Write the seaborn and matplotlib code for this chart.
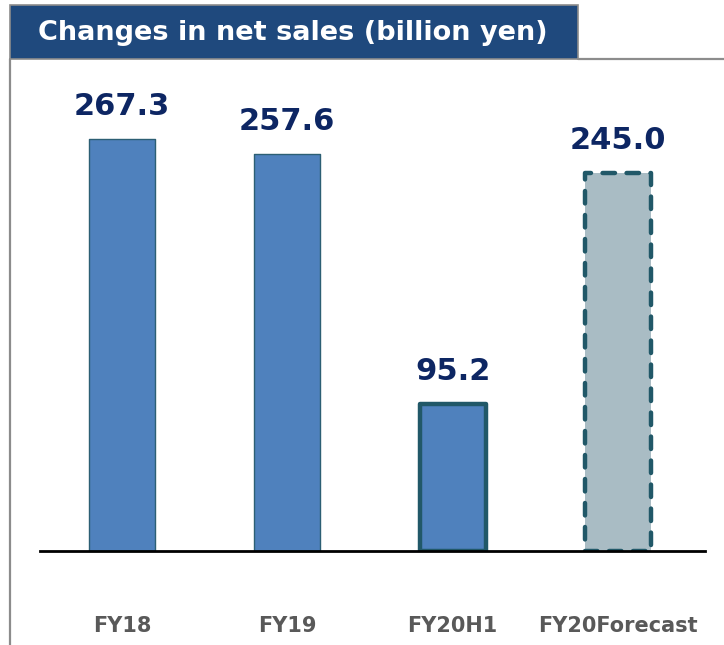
import matplotlib
matplotlib.use("Agg")
import matplotlib.pyplot as plt
import seaborn as sns
import pandas as pd
from matplotlib.patches import Rectangle
from matplotlib.lines import Line2D

categories = ["FY18", "FY19", "FY20H1", "FY20Forecast"]
net_sales = [267.3, 257.6, 95.2, 245.0]
value_labels = ["267.3", "257.6", "95.2", "245.0"]
title_text = "Changes in net sales (billion yen)"

sns.set_theme(style="white")
plt.rcParams['font.family'] = ['DejaVu Sans']

W, H = 724, 645
fig = plt.figure(figsize=(W / 100, H / 100), dpi=100)

def fx(px):
    return px / W

def fy(py):
    return 1 - py / H

ax = fig.add_axes([fx(40), fy(551), fx(705) - fx(40), fy(60) - fy(551)])

df = pd.DataFrame({"cat": categories, "val": net_sales})
sns.barplot(data=df, x="cat", y="val", ax=ax, width=0.4,
            color="#4F81BD", saturation=1)

fills = ["#4F81BD", "#4F81BD", "#4F81BD", "#A9BCC4"]
edges = ["#2C5F74", "#2C5F74", "#215868", "#215868"]
lws = [1.0, 1.0, 3.2, 3.2]
styles = ["solid", "solid", "solid", (0, (2.8, 2.6))]
for p, fc, ec, lw, ls in zip(ax.patches, fills, edges, lws, styles):
    p.set_facecolor(fc)
    p.set_edgecolor(ec)
    p.set_linewidth(lw)
    p.set_linestyle(ls)
    p.set_joinstyle("round")
    p.set_capstyle("round")

ax.set_xlim(-0.495, 3.525)
ax.set_ylim(0, 318.6)

for i, (v, lab) in enumerate(zip(net_sales, value_labels)):
    ax.annotate(lab, xy=(i, v), xytext=(0, 17.5), textcoords="offset points",
                ha="center", va="baseline", fontsize=22, fontweight="bold",
                color="#0D2663")

for s in ["top", "left", "right"]:
    ax.spines[s].set_visible(False)
ax.spines["bottom"].set_color("black")
ax.spines["bottom"].set_linewidth(2.0)
ax.set_zorder(2)

ax.set_yticks([])
ax.set_xlabel("")
ax.set_ylabel("")
ax.tick_params(axis="x", length=0, pad=47, labelsize=15, labelcolor="#595959")
for t in ax.get_xticklabels():
    t.set_fontweight("bold")
ax.patch.set_alpha(0)

# frame lines
fig.add_artist(Line2D([fx(10), fx(10)], [fy(59), fy(650)], color="#8C8C8C", lw=1.6))
fig.add_artist(Line2D([fx(578), fx(730)], [fy(59), fy(59)], color="#8C8C8C", lw=1.6))

# title box
fig.add_artist(Rectangle((fx(10), fy(59)), fx(578) - fx(10), fy(5) - fy(59),
                         facecolor="#1F497D", edgecolor="#8C8C8C", lw=1.2,
                         transform=fig.transFigure))
fig.text(fx(293), fy(33), title_text, ha="center", va="center", color="white",
         fontsize=19.5, fontweight="bold")

fig.savefig("out.png", dpi=100)
